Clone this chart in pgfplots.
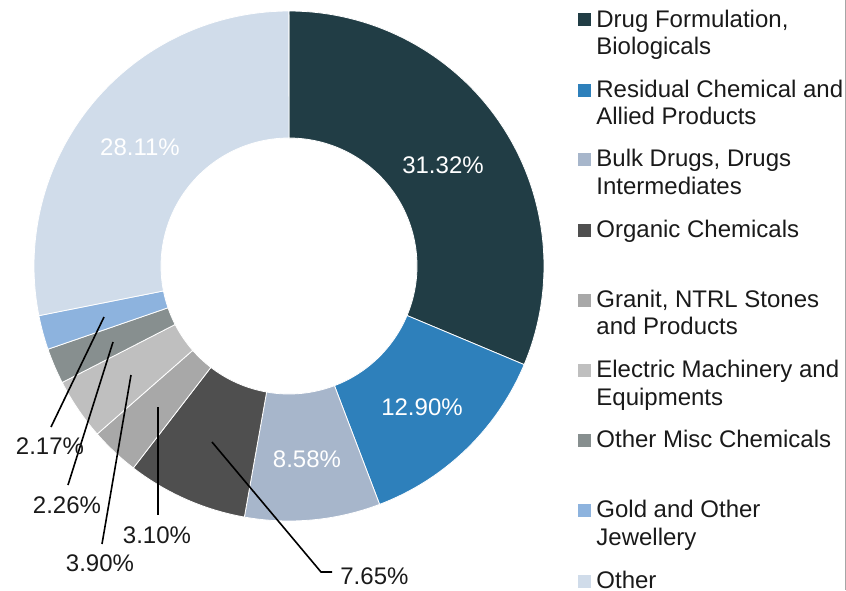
\documentclass[border=0pt]{standalone}
\usepackage{pgfplots}
\pgfplotsset{compat=1.18}
\usepackage{pgfplotstable}
\usepackage{fontspec}
\setmainfont{Liberation Sans}

\definecolor{c1}{HTML}{213D45}
\definecolor{c2}{HTML}{2E80BB}
\definecolor{c3}{HTML}{A7B6CB}
\definecolor{c4}{HTML}{4F4F4F}
\definecolor{c5}{HTML}{A8A8A8}
\definecolor{c6}{HTML}{BFBFBF}
\definecolor{c7}{HTML}{878F8F}
\definecolor{c8}{HTML}{8DB3DE}
\definecolor{c9}{HTML}{D0DCEA}
\definecolor{txt}{HTML}{1A1A1A}

\pgfplotstableread[col sep=comma]{
value,color
31.32,c1
12.90,c2
8.58,c3
7.65,c4
3.10,c5
3.90,c6
2.26,c7
2.17,c8
28.11,c9
}\datatbl

\tikzset{lab/.style={font=\fontsize{12}{14}\selectfont, inner sep=0pt, text=txt}}

\begin{document}
\begin{tikzpicture}
\begin{axis}[scale only axis, width=423pt, height=295pt,
  xmin=0, xmax=846, ymin=0, ymax=590, y dir=reverse,
  hide axis, clip=false]
\addplot[draw=none] coordinates {(0,0) (846,590)};
\pgfplotsextra{%
  \gdef\curang{90}%
  \foreach \i in {0,...,8}{%
    \pgfplotstablegetelem{\i}{value}\of\datatbl
    \pgfmathsetmacro\va{\pgfplotsretval}%
    \pgfplotstablegetelem{\i}{color}\of\datatbl
    \edef\vc{\pgfplotsretval}%
    \pgfmathsetmacro\aa{\curang}%
    \pgfmathsetmacro\ab{\curang-3.6*\va}%
    \pgfmathsetmacro\xo{289+255*cos(\aa)}%
    \pgfmathsetmacro\yo{266-255*sin(\aa)}%
    \pgfmathsetmacro\xin{289+128*cos(\ab)}%
    \pgfmathsetmacro\yin{266-128*sin(\ab)}%
    \fill[fill=\vc, draw=white, line width=0.4pt] (axis cs:\xo,\yo)
      arc[start angle=\aa, end angle=\ab, radius=127.5pt]
      -- (axis cs:\xin,\yin)
      arc[start angle=\ab, end angle=\aa, radius=64pt] -- cycle;%
    \xdef\curang{\ab}%
  }%
}
% data labels inside
\node[lab, text=white, anchor=base] at (axis cs:443,173) {31.32\%};
\node[lab, text=white, anchor=base] at (axis cs:422,415) {12.90\%};
\node[lab, text=white, anchor=base] at (axis cs:307,467) {8.58\%};
\node[lab, text=white, anchor=base] at (axis cs:140,155) {28.11\%};
% leader lines
\draw[black, line width=0.8pt] (axis cs:212,442) -- (axis cs:321,572) -- (axis cs:332,572);
\draw[black, line width=0.8pt] (axis cs:158,407) -- (axis cs:158,515);
\draw[black, line width=0.8pt] (axis cs:131,375) -- (axis cs:102,544);
\draw[black, line width=0.8pt] (axis cs:113,342) -- (axis cs:68,485);
\draw[black, line width=0.8pt] (axis cs:104,317) -- (axis cs:51,427);
\node[lab, anchor=base west] at (axis cs:340,584) {7.65\%};
\node[lab, anchor=base] at (axis cs:157,543) {3.10\%};
\node[lab, anchor=base] at (axis cs:100,571) {3.90\%};
\node[lab, anchor=base] at (axis cs:67,513) {2.26\%};
\node[lab, anchor=base] at (axis cs:50,454) {2.17\%};
% legend
\fill[c1] (axis cs:578,13) rectangle (axis cs:591,26);
\node[lab, anchor=base west] at (axis cs:596,27) {Drug Formulation,};
\node[lab, anchor=base west] at (axis cs:596,54) {Biologicals};
\fill[c2] (axis cs:578,84) rectangle (axis cs:591,97);
\node[lab, anchor=base west] at (axis cs:596,97) {Residual Chemical and};
\node[lab, anchor=base west] at (axis cs:596,124) {Allied Products};
\fill[c3] (axis cs:578,153) rectangle (axis cs:591,166);
\node[lab, anchor=base west] at (axis cs:596,166) {Bulk Drugs, Drugs};
\node[lab, anchor=base west] at (axis cs:596,194) {Intermediates};
\fill[c4] (axis cs:578,224) rectangle (axis cs:591,237);
\node[lab, anchor=base west] at (axis cs:596,237) {Organic Chemicals};
\fill[c5] (axis cs:578,294) rectangle (axis cs:591,307);
\node[lab, anchor=base west] at (axis cs:596,307) {Granit, NTRL Stones};
\node[lab, anchor=base west] at (axis cs:596,334) {and Products};
\fill[c6] (axis cs:578,364) rectangle (axis cs:591,377);
\node[lab, anchor=base west] at (axis cs:596,377) {Electric Machinery and};
\node[lab, anchor=base west] at (axis cs:596,405) {Equipments};
\fill[c7] (axis cs:578,434) rectangle (axis cs:591,447);
\node[lab, anchor=base west] at (axis cs:596,447) {Other Misc Chemicals};
\fill[c8] (axis cs:578,504) rectangle (axis cs:591,517);
\node[lab, anchor=base west] at (axis cs:596,517) {Gold and Other};
\node[lab, anchor=base west] at (axis cs:596,545) {Jewellery};
\fill[c9] (axis cs:578,575) rectangle (axis cs:591,588);
\node[lab, anchor=base west] at (axis cs:596,588) {Other};
\draw[gray!70, line width=0.6pt] (axis cs:845.2,0) -- (axis cs:845.2,590);
\end{axis}
\pgfresetboundingbox
\useasboundingbox (0,0) rectangle (423pt,295pt);
\end{tikzpicture}
\end{document}
